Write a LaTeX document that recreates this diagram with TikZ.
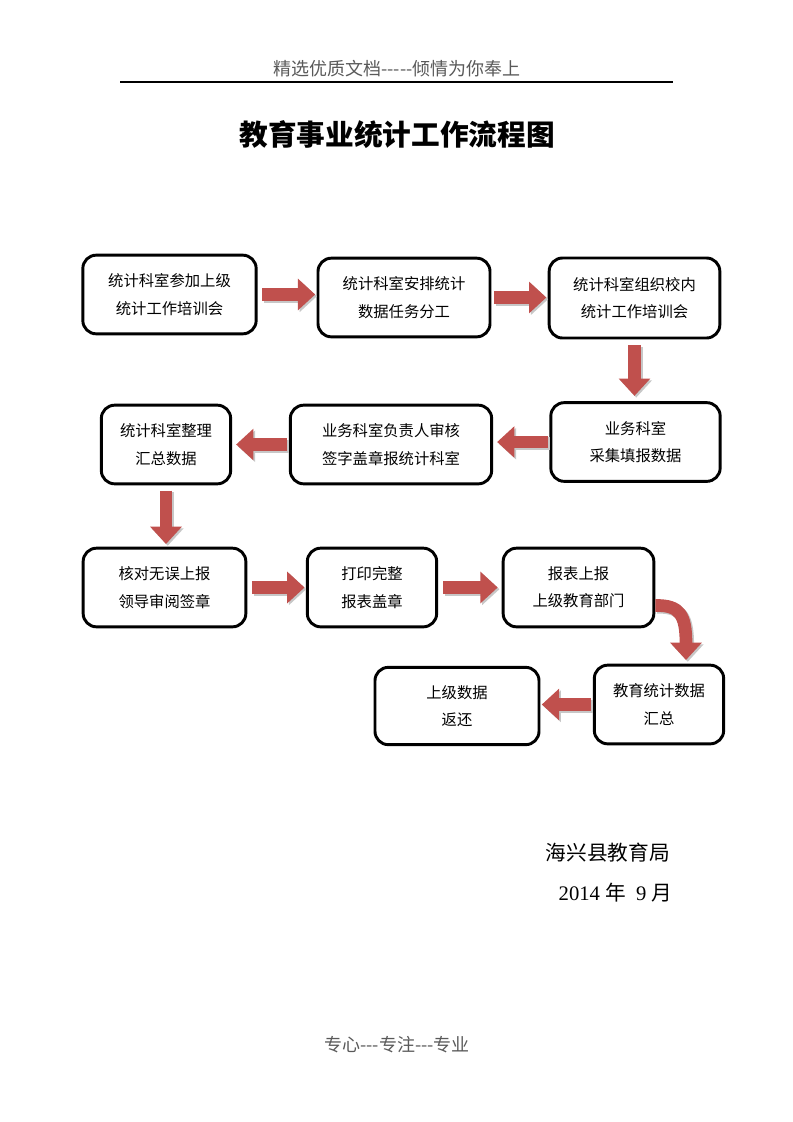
\documentclass[tikz,border=0pt]{standalone}
\usepackage{fontspec}
\setmainfont{Liberation Serif}
\newfontfamily\cjk{Noto Sans CJK SC}
\usetikzlibrary{arrows.meta}
\definecolor{arrred}{RGB}{192,80,77}
\begin{document}
\begin{tikzpicture}[x=0.75pt,y=-0.75pt,
  stepbox/.style={draw=black,line width=2.2pt,rounded corners=10pt,align=center,
    font=\cjk\fontsize{11.5}{20.5}\selectfont,inner sep=0pt},
  blk/.style={draw=arrred,line width=9.5pt,-{Triangle[width=23pt,length=13pt]},
    preaction={draw=black!22,line width=9.5pt,-{Triangle[width=23pt,length=13pt]},
      transform canvas={shift={(1.3pt,-1.3pt)}}}}]
\useasboundingbox (0,0) rectangle (793,1122);
% header
\node[font=\cjk\fontsize{13.5}{16}\selectfont,text=black!65] (hdr) at (397,69) {精选优质文档-----倾情为你奉上};
\coordinate (hl) at (120,82);
\coordinate (hr) at (673,82);
\draw[line width=0.8pt] (hl) -- (hr);
\node[font=\cjk\bfseries\fontsize{21.5}{24}\selectfont] (title) at (397,135) {教育事业统计工作流程图};
% boxes
\node[stepbox,minimum width=130pt,minimum height=59pt] (b1) at (169.5,294.5) {统计科室参加上级\\统计工作培训会};
\node[stepbox,minimum width=129pt,minimum height=59pt] (b2) at (404,297.5) {统计科室安排统计\\数据任务分工};
\node[stepbox,minimum width=128pt,minimum height=60pt] (b3) at (634.5,298) {统计科室组织校内\\统计工作培训会};
\node[stepbox,minimum width=127pt,minimum height=59pt] (b4) at (635.5,442) {业务科室\\采集填报数据};
\node[stepbox,minimum width=151pt,minimum height=59pt] (b5) at (391,444.5) {业务科室负责人审核\\签字盖章报统计科室};
\node[stepbox,minimum width=97pt,minimum height=59pt] (b6) at (166,444.5) {统计科室整理\\汇总数据};
\node[stepbox,minimum width=122pt,minimum height=59pt] (b7) at (164.5,587.5) {核对无误上报\\领导审阅签章};
\node[stepbox,minimum width=97pt,minimum height=59pt] (b8) at (372,587.5) {打印完整\\报表盖章};
\node[stepbox,minimum width=113pt,minimum height=59pt] (b9) at (578.5,587.5) {报表上报\\上级教育部门};
\node[stepbox,minimum width=97pt,minimum height=59pt] (b10) at (659,704.5) {教育统计数据\\汇总};
\node[stepbox,minimum width=123pt,minimum height=58pt] (b11) at (457,706) {上级数据\\返还};
% arrows
\draw[blk,shorten <=3.5pt,shorten >=1pt] (b1.east) -- (b1.east -| b2.west);
\draw[blk,shorten <=2pt,shorten >=1pt] (b2.east) -- (b2.east -| b3.west);
\draw[blk,shorten <=4.5pt,shorten >=4pt] (b3.south) -- (b3.south |- b4.north);
\draw[blk,shorten <=1pt,shorten >=3pt] (b4.west) -- (b4.west -| b5.east);
\draw[blk,shorten <=1.5pt,shorten >=3pt] (b5.west) -- (b5.west -| b6.east);
\draw[blk,shorten <=4pt,shorten >=2pt] (b6.south) -- (b6.south |- b7.north);
\draw[blk,shorten <=3.5pt,shorten >=1pt] (b7.east) -- (b7.east -| b8.west);
\draw[blk,shorten <=4pt,shorten >=3pt] (b8.east) -- (b8.east -| b9.west);
\coordinate (c9s) at ([yshift=-13.5pt]b9.east);
\coordinate (c9e) at (686,660);
\draw[blk] (c9s) .. controls (680,605) and (686,615) .. (c9e);
\draw[blk,shorten <=1.5pt,shorten >=1pt] (b10.west) -- (b10.west -| b11.east);
% footer
\node[font=\cjk\fontsize{15.5}{18}\selectfont,anchor=west] (org) at (541,853) {海兴县教育局};
\node[font=\fontsize{15.5}{18}\selectfont,anchor=west] (date) at (554,893) {2014~{\cjk 年}~~9~{\cjk 月}};
\node[font=\cjk\fontsize{13.5}{16}\selectfont,text=black!65] (ftr) at (397,1045) {专心---专注---专业};
\end{tikzpicture}
\end{document}
